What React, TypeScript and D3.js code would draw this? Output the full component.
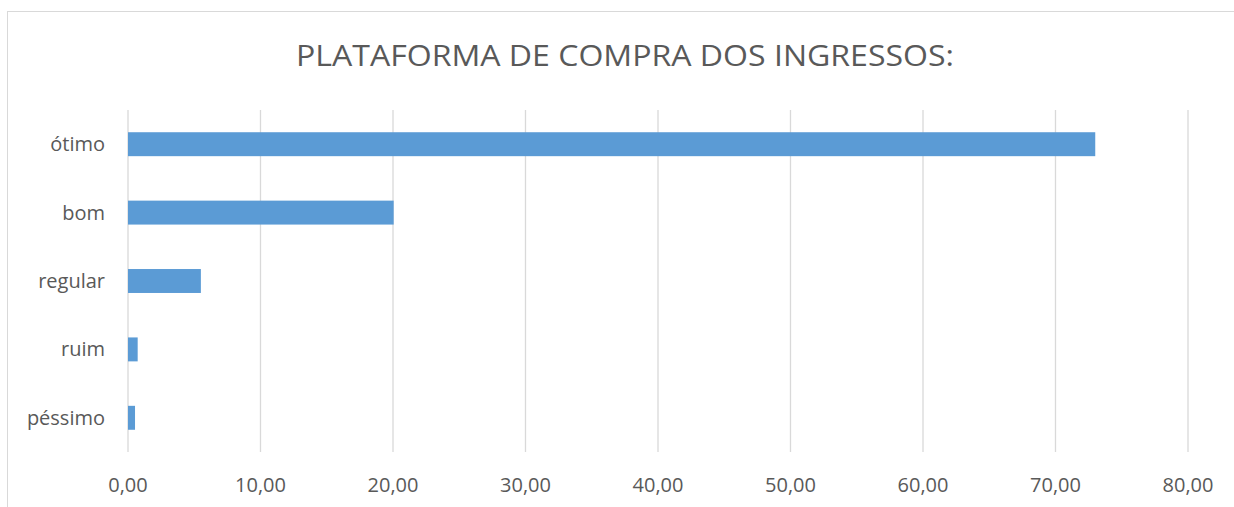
import React from "react";
import * as d3 from "d3";

const categories = ["ótimo", "bom", "regular", "ruim", "péssimo"];
const values = [73.0, 20.05, 5.5, 0.73, 0.53];
const xTicks = [0, 10, 20, 30, 40, 50, 60, 70, 80];
const title = "PLATAFORMA DE COMPRA DOS INGRESSOS:";

export default function App() {
  const W = 1234;
  const H = 507;
  const x = d3.scaleLinear().domain([0, 80]).range([128, 1188]);
  const y = d3.scaleBand().domain(categories).range([110, 452]).paddingInner(0.65).paddingOuter(0.325);
  const fmt = (v: number) => v.toFixed(2).replace(".", ",");
  const font = "'Open Sans', Calibri, sans-serif";
  return (
    <svg width={W} height={H} style={{ position: "absolute", left: 0, top: 0, background: "#fff" }}>
      <rect x={7.5} y={11.5} width={1300} height={600} fill="#fff" stroke="#d9d9d9" strokeWidth={1} />
      <text x={625} y={66} textAnchor="middle" fontFamily={font} fontSize={30} fill="#595959" textLength={658} lengthAdjust="spacingAndGlyphs">
        {title}
      </text>
      {xTicks.map((t) => (
        <line key={"g" + t} x1={x(t)} x2={x(t)} y1={110} y2={452} stroke="#d9d9d9" strokeWidth={1.3} />
      ))}
      {categories.map((c, i) => (
        <rect key={c} x={x(0)} y={y(c)!} width={x(values[i]) - x(0)} height={y.bandwidth()} fill="#5b9bd5" />
      ))}
      {categories.map((c) => (
        <text key={"l" + c} x={105} y={y(c)! + y.bandwidth() / 2 + 7} textAnchor="end" fontFamily={font} fontSize={20} fill="#595959">
          {c}
        </text>
      ))}
      {xTicks.map((t) => (
        <text key={"t" + t} x={x(t)} y={492} textAnchor="middle" fontFamily={font} fontSize={20} fill="#595959">
          {fmt(t)}
        </text>
      ))}
    </svg>
  );
}
